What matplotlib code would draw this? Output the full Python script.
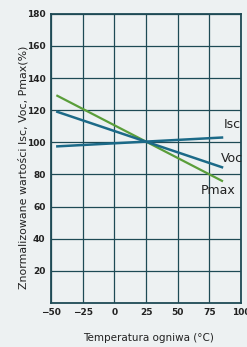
import numpy as np
import matplotlib
matplotlib.use('Agg')
import matplotlib.pyplot as plt

# temperatura ogniwa (°C) i znormalizowane wartości (%)
temp = [-45, 85]
isc = [97.5, 103]
voc = [119, 84.5]
pmax = [129, 76]

xticks = [-50, -25, 0, 25, 50, 75, 100]
yticks = [20, 40, 60, 80, 100, 120, 140, 160, 180]

BG = '#edf1f2'
GRID = '#1e4a55'
BLUE = '#1c6a88'
GREEN = '#5a9e3a'

fig = plt.figure(figsize=(2.47, 3.47), dpi=100, facecolor=BG)
ax = fig.add_axes([0.2065, 0.127, 0.7692, 0.833])
ax.set_facecolor(BG)

ax.plot(temp, pmax, color=GREEN, lw=1.6, zorder=3)
ax.plot(temp, voc, color=BLUE, lw=1.8, zorder=4)
ax.plot(temp, isc, color=BLUE, lw=1.8, zorder=4)

ax.set_xlim(-50, 100)
ax.set_ylim(0, 180)
ax.set_xticks(xticks)
ax.set_yticks(yticks)
ax.grid(True, color=GRID, lw=0.9)
for s in ax.spines.values():
	s.set_color(GRID)
	s.set_linewidth(1.3)
ax.tick_params(length=0, labelsize=6.5, colors='#222222', pad=4)
for t in ax.get_xticklabels() + ax.get_yticklabels():
	t.set_fontweight('bold')

ax.text(93, 111, 'Isc', fontsize=9, ha='center', va='center', color='#222222', clip_on=False)
ax.text(93, 90, 'Voc', fontsize=9, ha='center', va='center', color='#222222', clip_on=False)
ax.text(82, 70, 'Pmax', fontsize=9, ha='center', va='center', color='#222222', clip_on=False)

fig.text(0.093, 0.518, 'Znormalizowane wartości Isc, Voc, Pmax(%)', rotation=90,
	fontsize=7.9, ha='center', va='center', color='#222222')
fig.text(0.6, 0.026, 'Temperatura ogniwa (°C)', fontsize=7.5, ha='center', va='center', color='#222222')

fig.savefig('out.png', dpi=100, facecolor=BG)
